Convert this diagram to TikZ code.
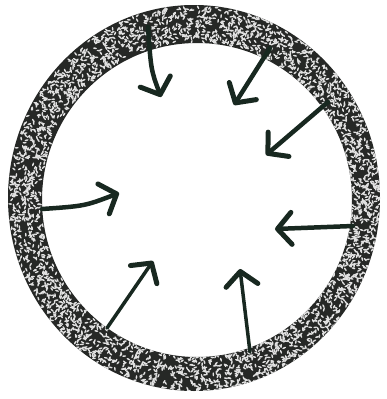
\documentclass[tikz,border=0pt]{standalone}
\usetikzlibrary{arrows.meta}
\definecolor{cRing}{RGB}{38,40,38}
\definecolor{cSpeck}{RGB}{225,225,225}
\definecolor{cInk}{RGB}{24,40,32}
\tikzset{
    ring/.style={fill=cRing, even odd rule},
    speck/.style={fill=cSpeck},
    arr/.style={draw=cInk, line width=4.5pt, line cap=round, line join=round,
        -{Straight Barb[length=14pt, width=32pt, round, line width=5pt]}},
}
\begin{document}
\begin{tikzpicture}[x=1pt, y=-1pt]

% bounding box = reference size
\useasboundingbox (0,0) rectangle (386,399);

% ================================================================
%  RING (dark, speckled)
% ================================================================
\fill[ring] (194,198) ellipse [x radius=186, y radius=193]
            (197,200) ellipse [x radius=155, y radius=157];
\begin{scope}[even odd rule]
    \clip (194,198) ellipse [x radius=186, y radius=193]
          (197,200) ellipse [x radius=155, y radius=157];
    \pgfmathsetseed{42}
    \foreach \i in {1,...,3200} {
        \pgfmathsetmacro\ang{rnd*360}
        \pgfmathsetmacro\rad{rnd}
        \pgfmathsetmacro\rot{rnd*180}
        \fill[speck, rotate around={\rot:({195.5+(155+31*\rad)*cos(\ang)},{199+(157+36*\rad)*sin(\ang)})}]
            ({195.5+(155+31*\rad)*cos(\ang)},{199+(157+36*\rad)*sin(\ang)})
            ellipse [x radius=2, y radius=0.8];
    }
\end{scope}

% ================================================================
%  ARROWS — from the ring towards the centre
% ================================================================
\coordinate (s1) at (148,27);  \coordinate (t1) at (161,97);
\coordinate (s2) at (270,48);  \coordinate (t2) at (234,105);
\coordinate (s3) at (328,102); \coordinate (t3) at (266,155);
\coordinate (s4) at (42,209);  \coordinate (t4) at (119,193);
\coordinate (s5) at (353,226); \coordinate (t5) at (275,229);
\coordinate (s6) at (107,328); \coordinate (t6) at (153,261);
\coordinate (s7) at (250,352); \coordinate (t7) at (240,269);

\draw[arr] (s1) .. controls (151,70) .. (t1);
\draw[arr] (s2) -- (t2);
\draw[arr] (s3) -- (t3);
\draw[arr] (s4) .. controls (85,206) .. (t4);
\draw[arr] (s5) -- (t5);
\draw[arr, line width=3.5pt] (s6) -- (t6);
\draw[arr, line width=3.5pt] (s7) -- (t7);

\end{tikzpicture}
\end{document}
